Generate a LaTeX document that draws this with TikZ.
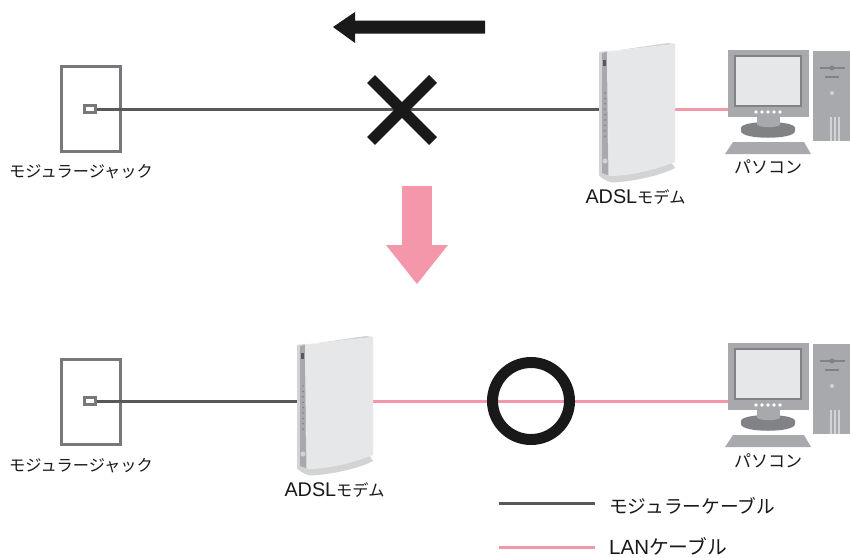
\documentclass[tikz,border=0pt]{standalone}
\usepackage{fontspec}
\setmainfont{Noto Sans CJK JP}
\newfontfamily\latinf{Liberation Sans}
\newcommand{\jpsize}[1]{\fontsize{#1}{20}\selectfont}
\definecolor{cab}{HTML}{58585A}
\definecolor{pnk}{HTML}{F497AB}
\definecolor{gmid}{HTML}{A7A9AC}
\definecolor{gdark}{HTML}{808285}
\definecolor{glight}{HTML}{E6E7E8}
\definecolor{gsoft}{HTML}{D1D3D4}
\definecolor{jackc}{HTML}{77787B}
\tikzset{
  x=1pt,y=-1pt,
  lbl/.style={inner sep=0pt,text=black!90},
  darkcable/.style={draw=cab,line width=3pt},
  pinkcable/.style={draw=pnk,line width=3pt},
  jackbox/.style={draw=jackc,line width=3pt,fill=white,minimum width=59pt,minimum height=85pt,inner sep=0pt},
  jackport/.style={draw=jackc,line width=2.2pt,fill=white,minimum width=11pt,minimum height=7pt,inner sep=0pt},
  anchorpt/.style={inner sep=0pt,minimum size=0pt},
  modem/.pic={
    % base
    \fill[gsoft] (-1,143) .. controls (25,146) and (55,141) .. (71,132) -- (75,138) .. controls (60,146) and (30,152) .. (12,152.5) .. controls (5,151) and (0,147) .. (-1,145) -- cycle;
    % side strip
    \fill[gsoft] (-1,22) -- (7,21) -- (9,146) -- (-1,143) -- cycle;
    \fill[gmid] (2,23) -- (7,22) -- (8,145) -- (2,143) -- cycle;
    % face
    \fill[glight] (7,22) -- (75,14) -- (75,132) .. controls (55,140) and (30,146) .. (9,146) -- cycle;
    \fill[gsoft] (-1,23) -- (7,21.5) -- (75,14) -- (68,13) -- cycle;
    \fill[cab] (3,30) rectangle (6,36);
    \foreach \i in {0,...,8} \fill[gdark] (5,63+\i*5.4) circle (0.9);
    \fill[gsoft] (5,131) circle (2.5);
  },
  computer/.pic={
    % monitor
    \fill[gmid] (0,0) rectangle (81,67);
    \fill[gdark] (6,5) rectangle (74,57);
    \fill[glight] (8,7) rectangle (72,55);
    \foreach \i in {0,...,4} \fill[white] (28+\i*6,62) circle (1.8);
    % stand
    \fill[gdark] (13,78) .. controls (13,70) and (67,70) .. (67,78) -- (67,81) .. controls (67,90) and (13,90) .. (13,81) -- cycle;
    \fill[gmid] (29,67) rectangle (52,75) ;
    \fill[gmid] (29,75) .. controls (35,78) and (46,78) .. (52,75) -- cycle;
    % keyboard
    \fill[gmid] (5,92) -- (76,92) -- (83,104) -- (-3,104) -- cycle;
    % tower
    \fill[gmid] (85,1) rectangle (122,91);
    \fill[gdark] (92,17) rectangle (117,19);
    \fill[gdark] (104,18) circle (2.5);
    \fill[gdark] (97,25.5) rectangle (111,27.5);
    \fill[gsoft] (104,43) circle (2);
    \fill[gsoft] (102,67) rectangle (104,91);
    \fill[gsoft] (106,67) rectangle (108,91);
    \fill[gsoft] (110,67) rectangle (112,91);
  }
}
\begin{document}
\begin{tikzpicture}
\useasboundingbox (0,0) rectangle (850,557);
\fill[white] (0,0) rectangle (850,557);

% top row
\node[jackbox] (jack1) at (90.5,109) {};
\node[jackport] (port1) at (90,109) {};
\node[anchorpt] (m1l) at (599,109) {};
\node[anchorpt] (m1r) at (675,109) {};
\node[anchorpt] (pc1) at (728,109) {};
\draw[darkcable] (port1.east) -- (m1l);
\draw[pinkcable] (m1r) -- (pc1);
\pic at (600,30) {modem};
\pic at (728,50) {computer};
\node[lbl] (l1) at (81,171.5) {\jpsize{16.2}モジュラージャック};
\node[lbl] (l2) at (635.5,197) {\latinf\jpsize{19.8}ADSL\normalfont\jpsize{16.2}モデム};
\node[lbl] (l3) at (768,167) {\jpsize{17}パソコン};

% black arrow
\fill[black!90] (333,27) -- (355,12) -- (355,20.5) -- (485,20.5) -- (485,33.5) -- (355,33.5) -- (355,43) -- cycle;
% cross
\draw[black!90,line width=11pt] (371,79) -- (433,141);
\draw[black!90,line width=11pt] (433,79) -- (371,141);
% pink arrow
\fill[pnk] (402,186) rectangle (432,246);
\fill[pnk] (386,245) -- (448,245) -- (417,284) -- cycle;

% bottom row
\node[jackbox] (jack2) at (90.5,401.5) {};
\node[jackport] (port2) at (90,401) {};
\node[anchorpt] (m2l) at (297,401) {};
\node[anchorpt] (m2r) at (373,401) {};
\node[anchorpt] (pc2) at (728,401) {};
\draw[darkcable] (port2.east) -- (m2l);
\draw[pinkcable] (m2r) -- (pc2);
\pic at (298,323) {modem};
\pic at (728,343) {computer};
\node[draw=black!90,line width=11pt,circle,minimum size=77pt,inner sep=0pt] (ok) at (531,401) {};
\node[lbl] (l4) at (81,465.5) {\jpsize{16.2}モジュラージャック};
\node[lbl] (l5) at (334.5,490) {\latinf\jpsize{19.8}ADSL\normalfont\jpsize{16.2}モデム};
\node[lbl] (l6) at (768,461) {\jpsize{17}パソコン};

% legend
\node[lbl,anchor=west] (lg1) at (609,506) {\jpsize{18.7}モジュラーケーブル};
\node[lbl,anchor=west] (lg2) at (609,546.5) {\latinf\jpsize{20.5}LAN\normalfont\jpsize{19.8}ケーブル};
\coordinate (lg1s) at (499,503);
\coordinate (lg2s) at (499,547);
\draw[darkcable] (lg1s) -- (lg1s -| 595,0);
\draw[pinkcable] (lg2s) -- (lg2s -| 595,0);
\end{tikzpicture}
\end{document}
